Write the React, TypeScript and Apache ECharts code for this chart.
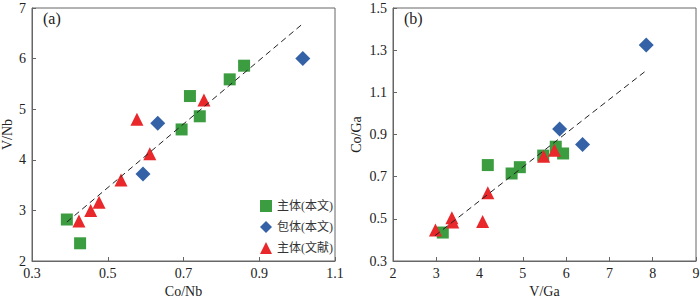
import React, { useEffect, useRef } from "react";
import * as echarts from "echarts";

// Panel (a): Co/Nb vs V/Nb
const mainA_x = [0.392, 0.427, 0.695, 0.717, 0.743, 0.822, 0.86];
const mainA_y = [2.82, 2.35, 4.6, 5.26, 4.86, 5.59, 5.86];
const inclA_x = [0.593, 0.632, 1.015];
const inclA_y = [3.72, 4.72, 6.0];
const litA_x = [0.424, 0.455, 0.477, 0.535, 0.577, 0.611, 0.754];
const litA_y = [2.79, 3.0, 3.16, 3.6, 4.8, 4.12, 5.18];
const fitA_x = [0.392, 1.015];
const fitA_y = [2.77, 6.69];

// Panel (b): V/Ga vs Co/Ga
const mainB_x = [3.15, 4.19, 4.74, 4.93, 5.47, 5.76, 5.93];
const mainB_y = [0.435, 0.755, 0.715, 0.745, 0.8, 0.842, 0.81];
const inclB_x = [5.85, 6.38, 7.85];
const inclB_y = [0.926, 0.853, 1.324];
const litB_x = [2.98, 3.36, 3.38, 4.07, 4.19, 5.48, 5.73];
const litB_y = [0.447, 0.505, 0.485, 0.487, 0.624, 0.797, 0.825];
const fitB_x = [2.97, 7.83];
const fitB_y = [0.42, 1.2];

const names = ["主体(本文)", "包体(本文)", "主体(文献)"];
const axA_x = { min: 0.3, max: 1.1, step: 0.2 };
const axA_y = { min: 2, max: 7, step: 1 };
const axB_x = { min: 2, max: 9, step: 1 };
const axB_y = { min: 0.3, max: 1.5, step: 0.2 };

const GREEN = "#3b9d40";
const BLUE = "#3562a6";
const RED = "#e8282a";
const AXIS = "#666";
const TEXT = "#222";
const SERIF = "'Liberation Serif', 'Times New Roman', serif";
const LEG_FONT = "'Liberation Serif', 'Noto Sans CJK SC', serif";

export default function App() {
  const ref = useRef<HTMLDivElement>(null);
  useEffect(() => {
    document.body.style.margin = "0";
    const chart = echarts.init(ref.current!, null, { renderer: "svg" });

    // offset-based axes so ticks start at min (e.g., 0.3, 0.5, ...)
    const off = (v: number, ax: { min: number }) => +(v - ax.min).toFixed(6);
    const pairs = (xs: number[], ys: number[], ax: any, ay: any) =>
      xs.map((x, i) => [off(x, ax), off(ys[i], ay)]);

    const mkAxis = (ax: any, gridIndex: number, isX: boolean, name: string, nameGap: number, decimals: number) => ({
      type: "value",
      gridIndex,
      min: 0,
      max: +(ax.max - ax.min).toFixed(6),
      interval: ax.step,
      name,
      nameLocation: "middle",
      nameGap,
      nameTextStyle: { fontFamily: SERIF, fontSize: 14, color: TEXT },
      axisLine: { show: true, lineStyle: { color: AXIS, width: 1 } },
      axisTick: { show: true, inside: true, length: 4, lineStyle: { color: AXIS } },
      splitLine: { show: false },
      axisLabel: {
        fontFamily: SERIF,
        fontSize: 14,
        color: TEXT,
        margin: isX ? 5 : 6,
        hideOverlap: false,
        formatter: (v: number) => (v + ax.min).toFixed(decimals),
      },
    });

    const scatter = (name: string, gi: number, data: number[][], symbol: string, size: number, color: string) => ({
      type: "scatter",
      name,
      xAxisIndex: gi,
      yAxisIndex: gi,
      data,
      symbol,
      symbolSize: size,
      itemStyle: { color, opacity: 1 },
    });
    const fit = (gi: number, data: number[][]) => ({
      type: "line",
      xAxisIndex: gi,
      yAxisIndex: gi,
      data,
      symbol: "none",
      lineStyle: { color: "#222", width: 1, type: [6, 4] },
      z: 5,
    });

    chart.setOption({
      animation: false,
      grid: [
        { left: 32, right: 365, top: 8, bottom: 38, show: true, borderColor: AXIS, borderWidth: 1, outerBoundsMode: "none", containLabel: false },
        { left: 393, right: 4, top: 8, bottom: 38, show: true, borderColor: AXIS, borderWidth: 1, outerBoundsMode: "none", containLabel: false },
      ],
      xAxis: [
        mkAxis(axA_x, 0, true, "Co/Nb", 21, 1),
        mkAxis(axB_x, 1, true, "V/Ga", 21, 0),
      ],
      yAxis: [
        mkAxis(axA_y, 0, false, "V/Nb", 18, 0),
        mkAxis(axB_y, 1, false, "Co/Ga", 30, 1),
      ],
      legend: {
        data: names,
        orient: "vertical",
        left: 255,
        top: 195,
        itemWidth: 12,
        itemHeight: 12,
        itemGap: 9,
        textStyle: { fontFamily: LEG_FONT, fontSize: 12, color: "#333" },
      },
      graphic: [
        { type: "text", left: 43, top: 10, style: { text: "(a)", font: `16px ${SERIF}`, fill: TEXT } },
        { type: "text", left: 404, top: 10, style: { text: "(b)", font: `16px ${SERIF}`, fill: TEXT } },
      ],
      series: [
        scatter(names[0], 0, pairs(mainA_x, mainA_y, axA_x, axA_y), "rect", 12, GREEN),
        scatter(names[1], 0, pairs(inclA_x, inclA_y, axA_x, axA_y), "diamond", 15, BLUE),
        scatter(names[2], 0, pairs(litA_x, litA_y, axA_x, axA_y), "triangle", 13, RED),
        fit(0, pairs(fitA_x, fitA_y, axA_x, axA_y)),
        scatter(names[0], 1, pairs(mainB_x, mainB_y, axB_x, axB_y), "rect", 12, GREEN),
        scatter(names[1], 1, pairs(inclB_x, inclB_y, axB_x, axB_y), "diamond", 15, BLUE),
        scatter(names[2], 1, pairs(litB_x, litB_y, axB_x, axB_y), "triangle", 13, RED),
        fit(1, pairs(fitB_x, fitB_y, axB_x, axB_y)),
      ],
    });
    return () => chart.dispose();
  }, []);
  return <div ref={ref} style={{ width: 700, height: 299, position: "absolute", left: 0, top: 0 }} />;
}
